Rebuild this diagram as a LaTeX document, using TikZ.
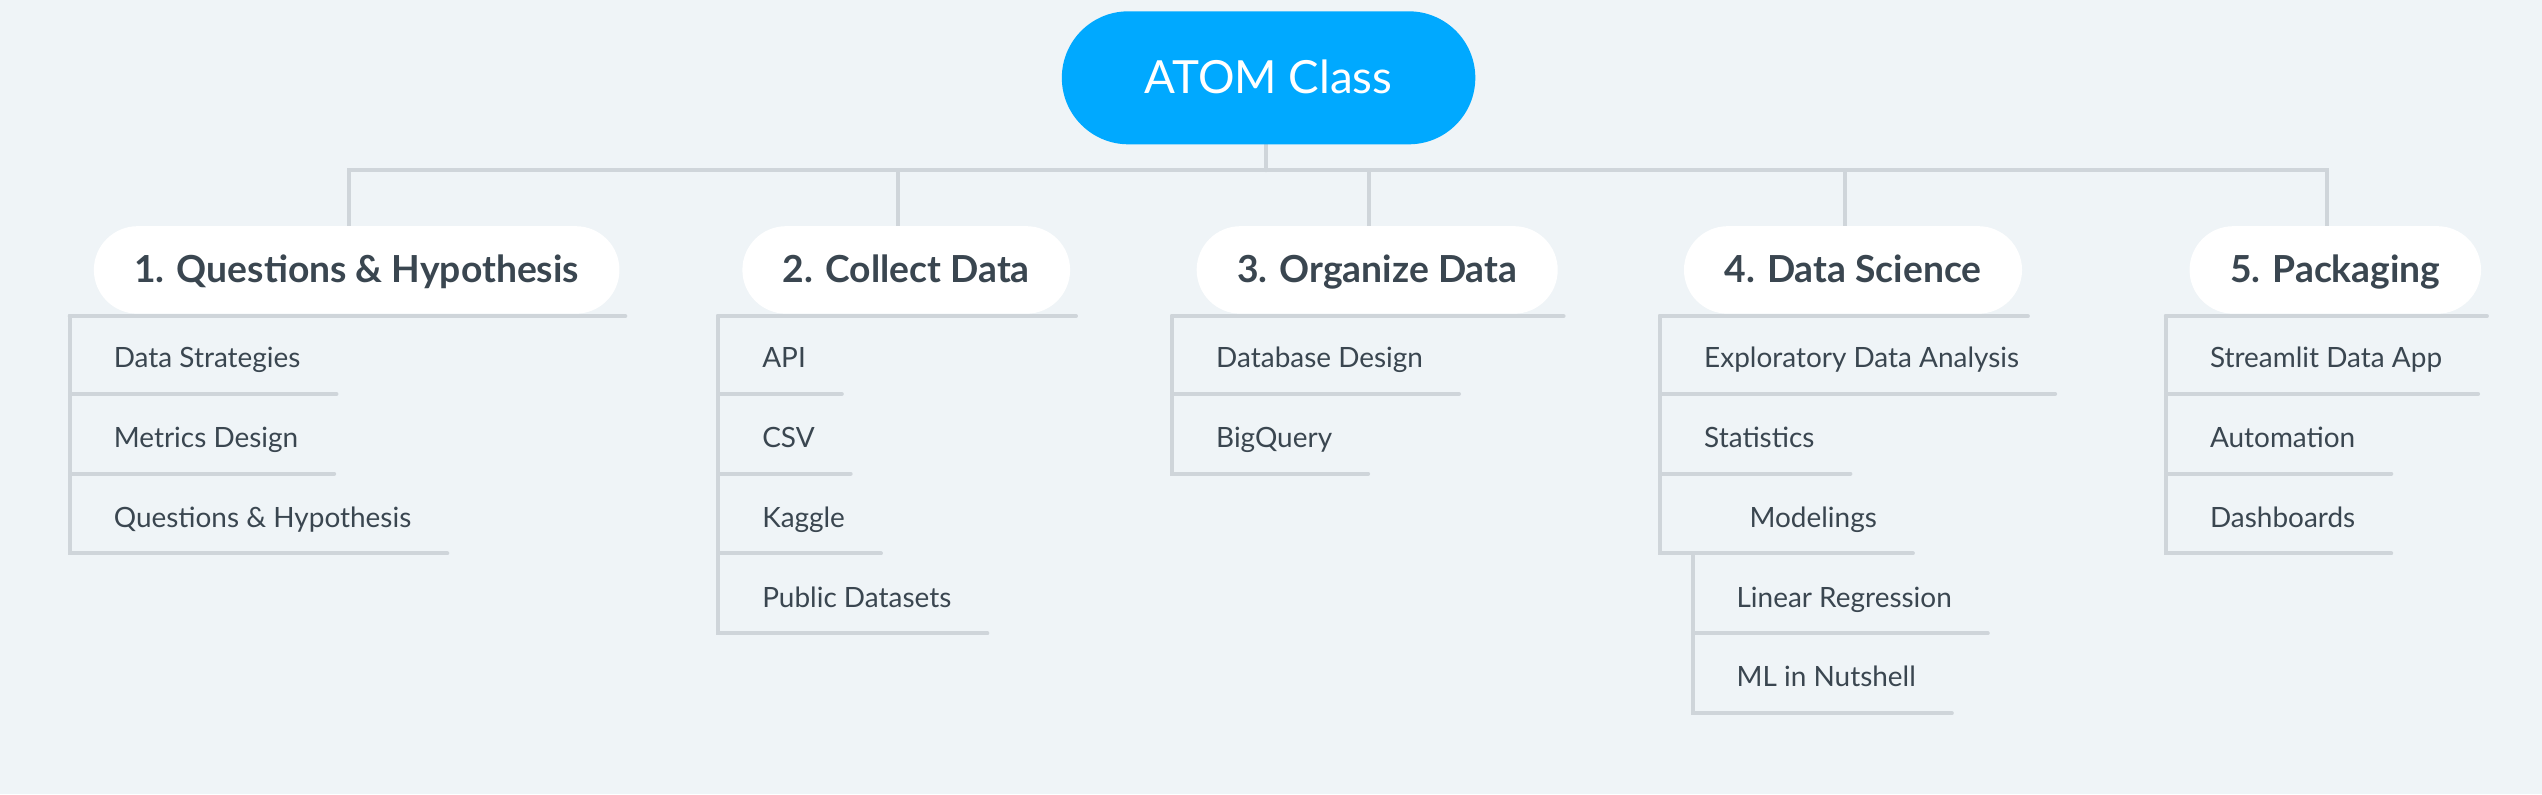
\documentclass[tikz,border=0pt]{standalone}
\usepackage{fontspec}
\setmainfont{Lato}
\usetikzlibrary{positioning,backgrounds}

\definecolor{bgcol}{HTML}{EFF4F7}
\definecolor{linecol}{HTML}{CFD5DA}
\definecolor{inkcol}{HTML}{3A4650}
\definecolor{rootcol}{HTML}{00A9FF}

\begin{document}
\begin{tikzpicture}[x=0.03242cm,y=-0.03242cm,
  link/.style={draw=linecol,line width=2.3pt,line cap=round},
  root node/.style={rectangle,fill=rootcol,text=white,rounded corners=13.3mm,
    minimum width=82.7mm,minimum height=26.6mm,
    font=\fontsize{26}{31}\selectfont,text height=18.3pt,text depth=0pt},
  topic node/.style={rectangle,fill=white,text=inkcol,rounded corners=8.75mm,
    minimum height=17.5mm,inner xsep=8.1mm,
    font=\fontsize{21.2}{25}\selectfont\bfseries,text height=14.3pt,text depth=0pt},
  item node/.style={anchor=south west,text=inkcol,inner xsep=7.13mm,inner ysep=0pt,
    text height=9.7mm,text depth=5.2mm,font=\fontsize{15.9}{19}\selectfont}]

  \useasboundingbox (0,0) rectangle (1568,490);

  % central topic and main branches
  \node[root node] (root) at (782.5,48) {ATOM Class};
  \node[topic node] (t1) at (220,166.5) {1. Questions \& Hypothesis};
  \node[topic node] (t2) at (559,166.5) {2. Collect Data};
  \node[topic node] (t3) at (849.5,166.5) {3. Organize Data};
  \node[topic node] (t4) at (1143,166.5) {4. Data Science};
  \node[topic node] (t5) at (1440.5,166.5) {5. Packaging};

  \coordinate (bus) at (781,105);
  \coordinate (v1) at (43,195);
  \coordinate (v2) at (443,195);
  \coordinate (v3) at (723,195);
  \coordinate (v4) at (1024,195);
  \coordinate (v5) at (1336,195);

  % branch 1
  \node[item node] (c11) at (48,243) {Data Strategies};
  \node[item node] (c12) at (48,292.2) {Metrics Design};
  \node[item node] (c13) at (48,341.4) {Questions \& Hypothesis};

  % branch 2
  \node[item node] (c21) at (448,243) {API};
  \node[item node] (c22) at (448,292.2) {CSV};
  \node[item node] (c23) at (448,341.4) {Kaggle};
  \node[item node] (c24) at (448,390.7) {Public Datasets};

  % branch 3
  \node[item node] (c31) at (728,243) {Database Design};
  \node[item node] (c32) at (728,292.2) {BigQuery};

  % branch 4
  \node[item node] (c41) at (1029,243) {Exploratory Data Analysis};
  \node[item node] (c42) at (1029,292.2) {Statistics};
  \node[item node] (c43) at (1057,341.4) {Modelings};
  \coordinate (v43) at (1044,341.4);
  \node[item node] (c431) at (1049,390.7) {Linear Regression};
  \node[item node] (c432) at (1049,440) {ML in Nutshell};

  % branch 5
  \node[item node] (c51) at (1341,243) {Streamlit Data App};
  \node[item node] (c52) at (1341,292.2) {Automation};
  \node[item node] (c53) at (1341,341.4) {Dashboards};

  \begin{scope}[on background layer]
    \fill[bgcol] (0,0) rectangle (1568,490);
    % tree lines
    \draw[link] (root.south -| bus) -- (bus);
    \draw[link] ([xshift=-1.6mm]t1.north) |- ([xshift=-1.6mm]t5.north |- bus)
      -- ([xshift=-1.6mm]t5.north);
    \foreach \i in {2,3,4}
      \draw[link] ([xshift=-1.6mm]t\i.north |- bus) -- ([xshift=-1.6mm]t\i.north);
    \foreach \i in {1,...,5}
      \draw[link] (v\i) -- ([xshift=1.1mm]v\i -| t\i.east);
    \foreach \c in {c11,c12,c13}
      \draw[link] (v1) |- (\c.south east);
    \foreach \c in {c21,c22,c23,c24}
      \draw[link] (v2) |- (\c.south east);
    \foreach \c in {c31,c32}
      \draw[link] (v3) |- (\c.south east);
    \foreach \c in {c41,c42,c43}
      \draw[link] (v4) |- (\c.south east);
    \foreach \c in {c431,c432}
      \draw[link] (v43) |- (\c.south east);
    \foreach \c in {c51,c52,c53}
      \draw[link] (v5) |- (\c.south east);
  \end{scope}

\end{tikzpicture}
\end{document}
